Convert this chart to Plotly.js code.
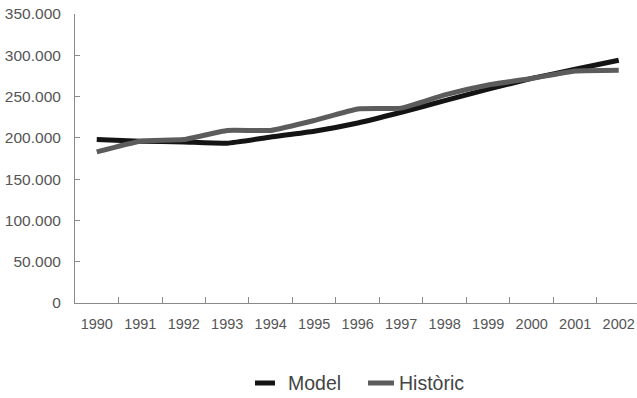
<!DOCTYPE html>
<html><head><meta charset="utf-8">
<script src="https://cdn.plot.ly/plotly-3.0.1.min.js"></script>
<style>html,body{margin:0;padding:0;background:#fff}#chart{width:637px;height:398px}</style>
</head><body><div id="chart"></div>
<script>
const years = ['1990','1991','1992','1993','1994','1995','1996','1997','1998','1999','2000','2001','2002'];
const modelValues = [198000,196000,195000,193500,201000,208000,218000,231000,245000,259000,272000,283000,294000];
const historicValues = [183000,196000,198000,209000,209000,221000,235000,236000,252000,264000,272000,281000,282000];
const yTicks = [0,50000,100000,150000,200000,250000,300000,350000];
const seriesNames = ['Model', 'Històric'];
const seriesColors = ['#141414', '#5c5c5c'];

const font = 'Liberation Sans, Arial, sans-serif';
const W = 637, H = 398, M = {l: 75, r: 0, t: 14, b: 95};
const pw = W - M.l - M.r, ph = H - M.t - M.b;
const px = x => (x - M.l) / pw;
const py = y => (H - M.b - y) / ph;

const traces = [
  {x: years, y: modelValues, name: seriesNames[0], type: 'scatter', mode: 'lines',
   line: {color: seriesColors[0], width: 5, shape: 'spline', smoothing: 0.4}},
  {x: years, y: historicValues, name: seriesNames[1], type: 'scatter', mode: 'lines',
   line: {color: seriesColors[1], width: 5, shape: 'spline', smoothing: 0.4}}
];
// custom legend (symbol geometry + label positions)
const legendItems = [
  {sx0: 255, sx1: 275, tx: 286},
  {sx0: 368, sx1: 394, tx: 397}
];
const legendY = 383;
const shapes = legendItems.map((it, i) => ({
  type: 'line', xref: 'paper', yref: 'paper',
  x0: px(it.sx0), x1: px(it.sx1), y0: py(legendY), y1: py(legendY),
  line: {color: seriesColors[i], width: 5}
}));
const annotations = legendItems.map((it, i) => ({
  xref: 'paper', yref: 'paper', x: px(it.tx), y: py(legendY),
  xanchor: 'left', yanchor: 'middle', showarrow: false, text: seriesNames[i],
  font: {family: font, size: 19.5, color: '#444'}
}));

const layout = {
  width: W, height: H,
  margin: M,
  paper_bgcolor: '#fff', plot_bgcolor: '#fff',
  separators: ',.',
  font: {family: font, color: '#555', size: 15},
  showlegend: false,
  shapes: shapes, annotations: annotations,
  xaxis: {type: 'category', range: [-0.5, 12.42], showgrid: false, zeroline: false,
          showline: true, linecolor: '#8a8a8a', linewidth: 1, tickangle: 0,
          ticks: 'inside', tickson: 'boundaries', ticklen: 6, tickcolor: '#8a8a8a',
          ticklabelstandoff: 8,
          tickfont: {size: 14.5, color: '#555'}},
  yaxis: {range: [0, 350000], tickvals: yTicks, tickformat: ',d', showgrid: false, zeroline: false,
          showline: true, linecolor: '#8a8a8a', linewidth: 1,
          ticks: 'inside', ticklen: 5, tickcolor: '#8a8a8a',
          ticklabelstandoff: 10,
          tickfont: {size: 15.5, color: '#555'}}
};
Plotly.newPlot('chart', traces, layout, {displayModeBar: false, staticPlot: true});
</script></body></html>
